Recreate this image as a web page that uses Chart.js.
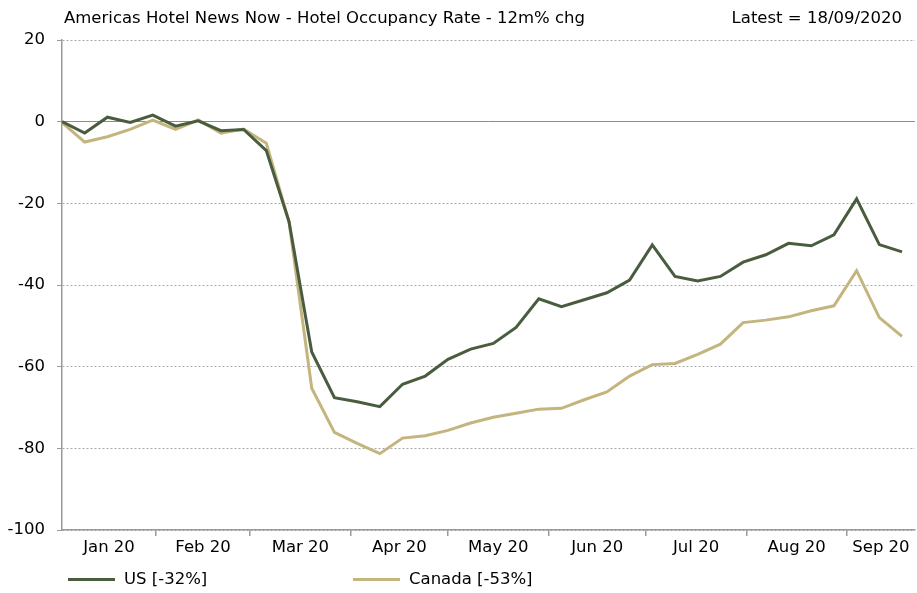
<!DOCTYPE html>
<html>
<head>
<meta charset="utf-8">
<script src="https://cdn.jsdelivr.net/npm/chart.js@4/dist/chart.umd.min.js"></script>
<style>
  html, body { margin:0; padding:0; background:#fff; }
  #wrap { position:relative; width:917px; height:593px; font-family:"DejaVu Sans", sans-serif; color:#000; }
  #c { position:absolute; left:0; top:0; }
  .txt { position:absolute; font-size:16.5px; white-space:nowrap; line-height:20px; }
  .sw { position:absolute; height:3px; }
</style>
</head>
<body>
<div id="wrap">
  <canvas id="c" width="917" height="593"></canvas>
  <div class="txt" id="title" style="left:64px; top:8px;"></div>
  <div class="txt" id="latest" style="right:15px; top:8px;"></div>
  <div class="sw" id="sw0" style="left:68px; top:578px; width:47px;"></div>
  <div class="txt" id="lg0" style="left:124px; top:569px;"></div>
  <div class="sw" id="sw1" style="left:353px; top:578px; width:47px;"></div>
  <div class="txt" id="lg1" style="left:409px; top:569px;"></div>
</div>
<script>
const titleText = "Americas Hotel News Now - Hotel Occupancy Rate - 12m% chg";
const latestText = "Latest = 18/09/2020";

const weeks = [
  "2020-01-03","2020-01-10","2020-01-17","2020-01-24","2020-01-31",
  "2020-02-07","2020-02-14","2020-02-21","2020-02-28",
  "2020-03-06","2020-03-13","2020-03-20","2020-03-27",
  "2020-04-03","2020-04-10","2020-04-17","2020-04-24",
  "2020-05-01","2020-05-08","2020-05-15","2020-05-22","2020-05-29",
  "2020-06-05","2020-06-12","2020-06-19","2020-06-26",
  "2020-07-03","2020-07-10","2020-07-17","2020-07-24","2020-07-31",
  "2020-08-07","2020-08-14","2020-08-21","2020-08-28",
  "2020-09-04","2020-09-11","2020-09-18"
];

const usValues = [
  0.0, -2.8, 1.1, -0.2, 1.6, -1.1, 0.2, -2.2, -1.9, -7.1,
  -24.5, -56.4, -67.6, -68.6, -69.8, -64.3, -62.3, -58.2, -55.7, -54.3,
  -50.4, -43.4, -45.3, -43.6, -41.9, -38.8, -30.2, -37.9, -39.0, -37.9,
  -34.4, -32.6, -29.8, -30.4, -27.7, -18.9, -30.1, -31.9
];

const canadaValues = [
  -0.2, -5.0, -3.7, -1.9, 0.4, -1.9, 0.4, -2.8, -1.8, -5.3,
  -24.5, -65.3, -76.1, -78.8, -81.3, -77.5, -76.9, -75.6, -73.8, -72.4,
  -71.4, -70.4, -70.2, -68.1, -66.2, -62.3, -59.5, -59.2, -57.0, -54.5,
  -49.2, -48.6, -47.8, -46.3, -45.1, -36.5, -48.0, -52.6
];

const seriesNames = ["US [-32%]", "Canada [-53%]"];
const seriesColors = ["#4a5c3e", "#c4b47d"];

const monthLabels = ["Jan 20","Feb 20","Mar 20","Apr 20","May 20","Jun 20","Jul 20","Aug 20","Sep 20"];
const monthStarts = ["2020-01-01","2020-02-01","2020-03-01","2020-04-01","2020-05-01","2020-06-01","2020-07-01","2020-08-01","2020-09-01","2020-10-01"];
const axisEnd = "2020-09-22";

const yTicks = [20, 0, -20, -40, -60, -80, -100];

function dayNum(s) {
  return Math.round((Date.parse(s) - Date.parse("2020-01-01")) / 86400000);
}

document.getElementById('title').textContent = titleText;
document.getElementById('latest').textContent = latestText;
document.getElementById('lg0').textContent = seriesNames[0];
document.getElementById('lg1').textContent = seriesNames[1];
document.getElementById('sw0').style.background = seriesColors[0];
document.getElementById('sw1').style.background = seriesColors[1];

const xMin = dayNum(weeks[0]);
const xMax = dayNum(axisEnd);
const xs = weeks.map(dayNum);

const FONT = { family: "DejaVu Sans", size: 16.5 };

new Chart(document.getElementById('c'), {
  type: 'line',
  data: {
    datasets: [
      { label: seriesNames[0], data: xs.map((x, i) => ({ x, y: usValues[i] })),
        borderColor: seriesColors[0], borderWidth: 3, pointRadius: 0, tension: 0, order: 0 },
      { label: seriesNames[1], data: xs.map((x, i) => ({ x, y: canadaValues[i] })),
        borderColor: seriesColors[1], borderWidth: 3, pointRadius: 0, tension: 0, order: 1 }
    ]
  },
  options: {
    responsive: false,
    animation: false,
    layout: { padding: { top: 40, right: 2, bottom: 33, left: 0 } },
    plugins: { legend: { display: false }, title: { display: false }, tooltip: { enabled: false } },
    scales: {
      x: {
        type: 'linear',
        min: xMin, max: xMax,
        afterFit(scale) { scale.height = 30; },
        afterBuildTicks(scale) {
          const t = [];
          const starts = monthStarts.map(dayNum);
          for (let i = 0; i < monthLabels.length; i++) {
            const a = Math.max(starts[i], xMin), b = Math.min(starts[i + 1], xMax);
            if (starts[i] > xMin) t.push({ value: starts[i] });
            t.push({ value: (a + b) / 2, lbl: monthLabels[i] });
          }
          t.sort((p, q) => p.value - q.value);
          scale.ticks = t;
        },
        ticks: {
          autoSkip: false, maxRotation: 0, padding: 2, color: '#000', font: FONT,
          callback(v, i, ticks) { return ticks[i] && ticks[i].lbl ? ticks[i].lbl : ''; }
        },
        grid: {
          drawOnChartArea: false, drawTicks: true, tickLength: 6,
          color: ctx => (ctx.tick && ctx.tick.lbl) ? 'rgba(0,0,0,0)' : '#9a9a9a',
          lineWidth: 1.5
        },
        border: { display: true, color: '#9a9a9a', width: 1.5 }
      },
      y: {
        min: -100, max: 20,
        afterFit(scale) { scale.width = 62; },
        afterBuildTicks(scale) { scale.ticks = yTicks.map(v => ({ value: v })); },
        ticks: { color: '#000', font: FONT, padding: 12 },
        grid: {
          color: ctx => (ctx.tick && ctx.tick.value === 0) ? '#8c8c8c' : '#a8a8a8',
          lineWidth: 1, tickLength: 5, tickColor: '#9a9a9a'
        },
        border: {
          display: true, color: '#9a9a9a', width: 1.5,
          dash: ctx => (ctx.tick && ctx.tick.value !== 0) ? [2, 2] : []
        }
      }
    }
  }
});
</script>
</body>
</html>
